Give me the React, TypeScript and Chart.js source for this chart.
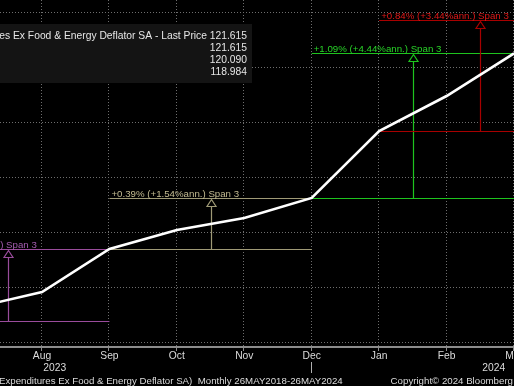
import React, { useEffect, useRef } from 'react';
import { Chart, registerables } from 'chart.js';

Chart.register(...registerables);

// ---- data ----
const months = ['Jun', 'Jul', 'Aug', 'Sep', 'Oct', 'Nov', 'Dec', 'Jan', 'Feb', 'Mar', 'Apr'];
const values = [118.879, 119.0, 119.142, 119.533, 119.706, 119.815, 119.997, 120.606, 120.924, 121.312, 121.615];

const tickLabels = ['Aug', 'Sep', 'Oct', 'Nov', 'Dec', 'Jan', 'Feb', 'Mar'];
const tickIndex = [2, 3, 4, 5, 6, 7, 8, 9];
const yearLabels = ['2023', '2024'];
const yearPositions = [2.19, 8.7];
const yearSeparator = 6;

const gridValues = [118.688, 119.188, 119.688, 120.188, 120.688, 121.188, 121.688];

const spanStarts = [0, 3, 6, 7];
const spanLength = 3;
const spanLabels = [
  '+0.55% (+2.22%ann.) Span 3',
  '+0.39% (+1.54%ann.) Span 3',
  '+1.09% (+4.44%ann.) Span 3',
  '+0.84% (+3.44%ann.) Span 3',
];
const spanLineColors = ['#9a4c9c', '#9f9a76', '#1ec41e', '#a80000'];
const spanTextColors = ['#a45cb0', '#c4bc92', '#28d428', '#e01818'];

const legendLabel = 'es Ex Food & Energy Deflator SA - Last Price';
const legendValues = ['121.615', '121.615', '120.090', '118.984'];
const footerLeft = 'Expenditures Ex Food & Energy Deflator SA)  Monthly 26MAY2018-26MAY2024';
const footerRight = 'Copyright\u00A9 2024 Bloomberg';

const X_MIN = 1.377;
const X_MAX = 9;
const Y_MIN = 118.642;
const Y_MAX = 121.797;

const FONT = '10.3px "Liberation Sans", Arial, sans-serif';
const SMALL_FONT = '9.7px "Liberation Sans", Arial, sans-serif';

const bloombergPlugin = {
  id: 'bloomberg',
  beforeDraw(chart: any) {
    const ctx = chart.ctx;
    ctx.save();
    ctx.fillStyle = '#000';
    ctx.fillRect(0, 0, chart.width, chart.height);
    ctx.restore();
  },
  beforeDatasetsDraw(chart: any) {
    const ctx = chart.ctx;
    const xs = chart.scales.x;
    const ys = chart.scales.y;
    const area = chart.chartArea;
    ctx.save();
    // dotted grid
    ctx.strokeStyle = '#6e6e6e';
    ctx.lineWidth = 1;
    ctx.setLineDash([1, 2]);
    tickIndex.forEach((t) => {
      const x = Math.round(xs.getPixelForValue(t)) - 0.5;
      ctx.beginPath();
      ctx.moveTo(x, area.top);
      ctx.lineTo(x, area.bottom);
      ctx.stroke();
    });
    gridValues.forEach((v) => {
      const y = Math.round(ys.getPixelForValue(v)) + 0.5;
      ctx.beginPath();
      ctx.moveTo(area.left, y);
      ctx.lineTo(area.right, y);
      ctx.stroke();
    });
    ctx.setLineDash([]);

    // span annotations
    spanStarts.forEach((s, i) => {
      const e = s + spanLength;
      const x1 = xs.getPixelForValue(s);
      const x2 = xs.getPixelForValue(e);
      const yTop = Math.round(ys.getPixelForValue(values[e])) + 0.5;
      const yBot = Math.round(ys.getPixelForValue(values[s])) + 0.5;
      const xm = Math.round((x1 + x2) / 2) + 0.5;
      ctx.strokeStyle = spanLineColors[i];
      ctx.lineWidth = 1.2;
      ctx.beginPath();
      ctx.moveTo(x1, yTop);
      ctx.lineTo(x2, yTop);
      ctx.moveTo(x1, yBot);
      ctx.lineTo(x2, yBot);
      ctx.moveTo(xm, yBot);
      ctx.lineTo(xm, yTop + 8);
      ctx.stroke();
      // hollow triangle
      ctx.beginPath();
      ctx.moveTo(xm, yTop + 1);
      ctx.lineTo(xm + 4.5, yTop + 8);
      ctx.lineTo(xm - 4.5, yTop + 8);
      ctx.closePath();
      ctx.fillStyle = '#000';
      ctx.fill();
      ctx.stroke();
      // label
      ctx.font = SMALL_FONT;
      ctx.fillStyle = spanTextColors[i];
      ctx.textAlign = 'left';
      ctx.textBaseline = 'alphabetic';
      ctx.fillText(spanLabels[i], x1 + 2, yTop - 2);
    });
    ctx.restore();
  },
  afterDraw(chart: any) {
    const ctx = chart.ctx;
    const xs = chart.scales.x;
    const area = chart.chartArea;
    ctx.save();
    // x axis line
    ctx.strokeStyle = '#8c8c8c';
    ctx.lineWidth = 2;
    ctx.beginPath();
    ctx.moveTo(0, area.bottom);
    ctx.lineTo(chart.width, area.bottom);
    ctx.stroke();
    // small ticks
    ctx.lineWidth = 1;
    tickIndex.forEach((t) => {
      const x = Math.round(xs.getPixelForValue(t)) - 0.5;
      ctx.beginPath();
      ctx.moveTo(x, area.bottom);
      ctx.lineTo(x, area.bottom + 4);
      ctx.stroke();
    });
    // year separator
    const xsep = Math.round(xs.getPixelForValue(yearSeparator)) - 0.5;
    ctx.strokeStyle = '#b0b0b0';
    ctx.beginPath();
    ctx.moveTo(xsep, area.bottom + 15);
    ctx.lineTo(xsep, area.bottom + 26);
    ctx.stroke();

    ctx.font = FONT;
    ctx.fillStyle = '#dcdcdc';
    ctx.textBaseline = 'middle';
    ctx.textAlign = 'center';
    tickIndex.forEach((t, i) => {
      ctx.fillText(tickLabels[i], xs.getPixelForValue(t), area.bottom + 9);
    });
    yearLabels.forEach((lab, i) => {
      ctx.fillText(lab, xs.getPixelForValue(yearPositions[i]), area.bottom + 21);
    });
    // footer
    ctx.font = SMALL_FONT;
    ctx.textAlign = 'left';
    ctx.fillText(footerLeft, -1, area.bottom + 34);
    ctx.textAlign = 'right';
    ctx.fillText(footerRight, 513, area.bottom + 34);

    // legend box
    ctx.font = FONT;
    ctx.fillStyle = '#141414';
    ctx.fillRect(0, 24, 252, 59);
    ctx.fillStyle = '#e6e6e6';
    ctx.textAlign = 'right';
    ctx.fillText(legendLabel, 207, 36);
    legendValues.forEach((v, i) => {
      ctx.fillText(v, 247, 36 + i * 12.2);
    });
    ctx.restore();
  },
};

export default function App() {
  const ref = useRef<HTMLCanvasElement | null>(null);
  useEffect(() => {
    document.body.style.margin = '0';
    document.body.style.background = '#000';
    if (!ref.current) return;
    const chart = new Chart(ref.current, {
      type: 'line',
      data: {
        labels: months,
        datasets: [
          {
            data: values.map((v, i) => ({ x: i, y: v })),
            borderColor: '#ffffff',
            borderWidth: 2.6,
            pointRadius: 0,
            tension: 0,
            fill: false,
          },
        ],
      },
      options: {
        animation: false,
        responsive: false,
        devicePixelRatio: 1,
        layout: { padding: { left: 0, right: 0, top: 0, bottom: 39 } },
        plugins: { legend: { display: false }, tooltip: { enabled: false } },
        scales: {
          x: { type: 'linear', min: X_MIN, max: X_MAX, display: false },
          y: { type: 'linear', min: Y_MIN, max: Y_MAX, display: false },
        },
      },
      plugins: [bloombergPlugin],
    });
    return () => chart.destroy();
  }, []);
  return (
    <div style={{ width: 514, height: 386, background: '#000' }}>
      <canvas ref={ref} width={514} height={386} style={{ display: 'block' }} />
    </div>
  );
}
